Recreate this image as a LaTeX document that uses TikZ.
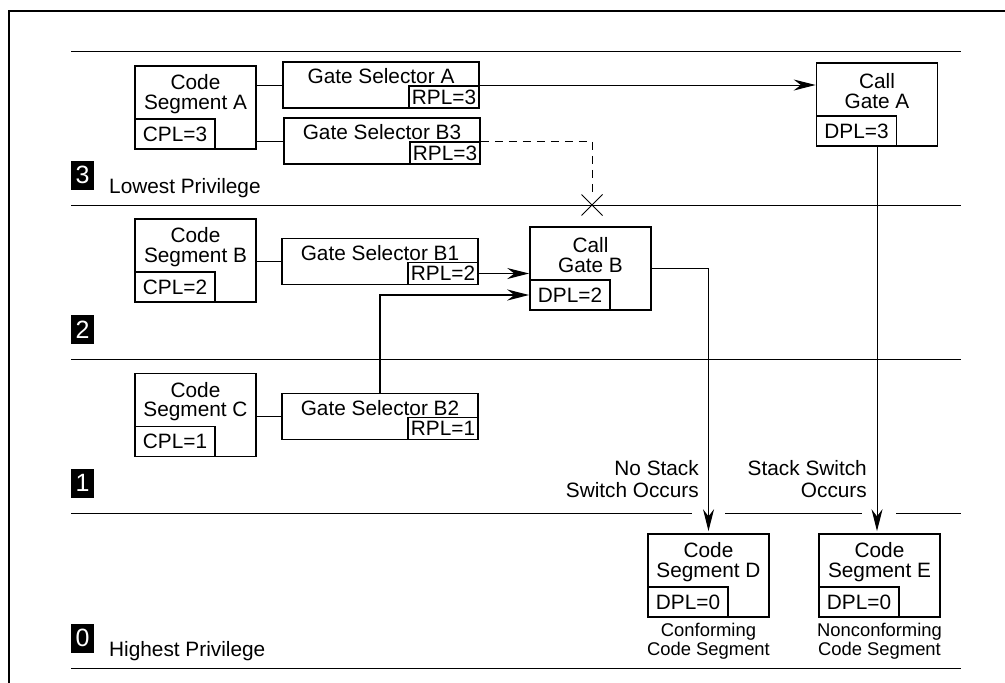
\documentclass[tikz,border=0pt]{standalone}
\usepackage{fontspec}
\setmainfont{Liberation Sans}
\usetikzlibrary{arrows.meta,calc,shapes.misc}

\begin{document}
\begin{tikzpicture}[
  x=1pt, y=-1pt,
  font=\fontsize{20.8}{19.5}\selectfont,
  box/.style={draw, line width=1.6pt, inner sep=0pt},
  segbox/.style={box, minimum width=121pt, minimum height=83pt},
  gatebox/.style={box, minimum width=196pt, minimum height=46pt},
  plbox/.style={box, minimum width=80pt, minimum height=30pt, anchor=south west},
  rplbox/.style={box, minimum width=70pt, minimum height=22pt, anchor=south east},
  title/.style={align=center, inner sep=0pt},
  badge/.style={fill=black, text=white, minimum width=23pt, minimum height=29pt, inner sep=0pt, anchor=south west, font=\fontsize{25}{25}\selectfont},
  lvltext/.style={anchor=base west, inner sep=0pt},
  note/.style={align=right, inner sep=0pt, anchor=east, font=\fontsize{20.8}{22}\selectfont},
  caption/.style={align=center, inner sep=0pt, anchor=north, font=\fontsize{18.4}{19.5}\selectfont},
  level/.style={line width=1pt},
  wire/.style={line width=1pt},
  heavy/.style={line width=1.9pt},
  arrow/.style={wire, -{Stealth[length=22pt, width=11pt]}},
  blocked/.style={wire, dash pattern=on 8pt off 6pt}
]
\useasboundingbox (0,0) rectangle (1005,683);

% frame
\draw[line width=1.6pt] (9,683) -- (9,11) -- (1005,11);

% privilege rings
\foreach \y in {51,205,359,668}{
  \draw[level] (71,\y) -- (961,\y);
}
\draw[level] (71,513) -- (692,513) (725,513) -- (862,513) (896,513) -- (961,513);

\foreach \n/\y in {3/205,2/359,1/513,0/668}{
  \node[badge] (lvl\n) at (71,\y-15) {\n};
}
\node[lvltext] (lvl3-t) at (109,193) {Lowest Privilege};
\node[lvltext] (lvl0-t) at (109,656) {Highest Privilege};

% code segments and call gates
\foreach \id/\x/\y/\name/\pl in {
segA/195.5/107.5/{Code\\Segment A}/{CPL=3},
segB/195.5/260.5/{Code\\Segment B}/{CPL=2},
segC/195.5/415/{Code\\Segment C}/{CPL=1},
callA/877/104.5/{Call\\Gate A}/{DPL=3},
callB/590.5/268.5/{Call\\Gate B}/{DPL=2},
segD/708.5/575.5/{Code\\Segment D}/{DPL=0},
segE/879.5/575.5/{Code\\Segment E}/{DPL=0}
}{
  \node[segbox] (\id) at (\x,\y) {};
  \node[title] (\id-t) at ($(\id.north)+(0,29)$) {\name};
  \node[plbox] (\id-pl) at (\id.south west) {\pl};
}

% gate selectors
\foreach \id/\x/\y/\name/\rpl in {
gsA/381/85/{Gate Selector A}/{RPL=3},
gsB3/382/141/{Gate Selector B3}/{RPL=3},
gsB1/380/261.5/{Gate Selector B1}/{RPL=2},
gsB2/380/416.5/{Gate Selector B2}/{RPL=1}
}{
  \node[gatebox] (\id) at (\x,\y) {};
  \node[title] (\id-t) at ($(\id.north)+(0,15)$) {\name};
  \node[rplbox] (\id-rpl) at (\id.south east) {\rpl};
}

\node[caption] (segD-c) at ($(segD.south)+(0,5)$) {Conforming\\Code Segment};
\node[caption] (segE-c) at ($(segE.south)+(0,5)$) {Nonconforming\\Code Segment};

\node[note] (noswitch) at (699,479) {No Stack\\Switch Occurs};
\node[note] (switch) at (867,479) {Stack Switch\\Occurs};

% connectors
\draw[wire] (segA.east |- gsA.west) -- (gsA.west);
\draw[wire] (segA.east |- gsB3.west) -- (gsB3.west);
\draw[wire] (segB.east |- gsB1.west) -- (gsB1.west);
\draw[heavy] (segC.east |- gsB2.west) -- (gsB2.west);
\draw[arrow] (gsA.east) -- (gsA.east -| callA.west);
\draw[arrow] (gsB1-rpl.east) -- (gsB1-rpl.east -| callB.west);
\draw[arrow, heavy] (gsB2.north) |- (callB-pl.west);
\draw[arrow, shorten >=2pt] (callB.east) -| (segD.north);
\draw[arrow, shorten >=2pt] (callA.south) -- (callA.south |- segE.north);

\node[draw, cross out, line width=1pt, minimum size=20pt, inner sep=0pt] (xB3) at (592,205) {};
\draw[blocked] (gsB3.east) -| (xB3.north);

\end{tikzpicture}
\end{document}
